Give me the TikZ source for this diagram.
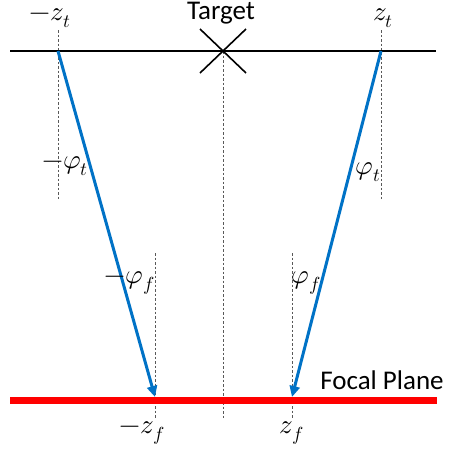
\documentclass[tikz,border=0pt]{standalone}
\usepackage{unicode-math}
\setmainfont{Carlito}
\usetikzlibrary{arrows.meta}
\definecolor{rayblue}{RGB}{0,114,198}
\tikzset{
  guide/.style={draw=gray!70!black, dashed, line width=0.6pt, dash pattern=on 2.5pt off 2pt},
  ray/.style={draw=rayblue, line width=3pt, -{Triangle[length=11pt,width=10pt]}},
  lbl/.style={font=\fontsize{27}{32}\selectfont, inner sep=0pt},
  txt/.style={font=\fontsize{27}{32}\selectfont, inner sep=0pt},
}
\begin{document}
\begin{tikzpicture}[x=1pt,y=-1pt]
\useasboundingbox (0,0) rectangle (452,459);
% guides
\coordinate (tl) at (58,51);
\coordinate (tr) at (381,51);
\coordinate (tc) at (223,51);
\draw[guide] (58,30) -- (58,200);
\draw[guide] (381,30) -- (381,200);
\draw[guide] (tc) -- (223,418);
\draw[guide] (155,253) -- (155,418);
\draw[guide] (292,253) -- (292,418);
% target plane
\draw[line width=1.6pt] (10,51) -- (436,51);
\draw[line width=1.6pt] (200,29) -- (246,73);
\draw[line width=1.6pt] (200,73) -- (246,29);
% focal plane
\draw[red, line width=7pt] (10,400) -- (437,400);
% rays
\draw[ray] (tl) -- (155,397);
\draw[ray] (tr) -- (292,397);
% labels
\node[txt, anchor=base] (target) at (221,19) {Target};
\node[lbl] (mzt) at (50,18) {$-z_t$};
\node[lbl] (zt) at (383,18) {$z_t$};
\node[lbl] (mpt) at (65,166) {$-\varphi_t$};
\node[lbl] (pt) at (368,172) {$\varphi_t$};
\node[lbl] (mpf) at (130,283) {$-\varphi_f$};
\node[lbl] (pf) at (306,283) {$\varphi_f$};
\node[txt, anchor=base] (focal) at (382,389) {Focal Plane};
\node[lbl] (mzf) at (142,433) {$-z_f$};
\node[lbl] (zf) at (292,433) {$z_f$};
\end{tikzpicture}
\end{document}
